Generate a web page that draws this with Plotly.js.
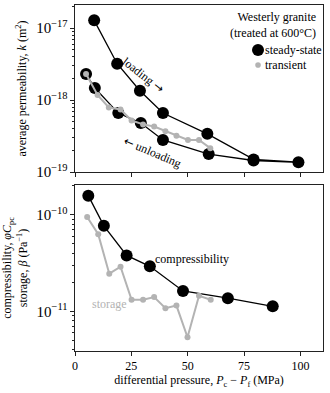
<!DOCTYPE html>
<html>
<head>
<meta charset="utf-8">
<script src="https://cdn.plot.ly/plotly-3.0.1.min.js"></script>
<style>
  body { margin: 0; background: #fff; }
  #plot { width: 330px; height: 393px; }
</style>
</head>
<body>
<div id="plot"></div>
<script>
// permeability, loading then unloading (steady-state)
const steadyP = [8.5, 18.7, 28.8, 39, 58.7, 79.2, 99.1, 79.2, 59.3, 39, 29.2, 19.2, 8.8, 4.9];
const steadyK = [1.28e-17, 3.2e-18, 1.35e-18, 6.6e-19, 3.4e-19, 1.5e-19, 1.37e-19,
                 1.45e-19, 1.78e-19, 2.8e-19, 4.8e-19, 6.6e-19, 1.47e-18, 2.3e-18];

// transient permeability
const transP = [4.9, 10, 15, 20.2, 25.1, 30.2, 35.1, 40.1, 45, 50.1, 55, 60];
const transK = [2.3e-18, 1.18e-18, 7.9e-19, 7.4e-19, 5.2e-19, 4.6e-19, 4.3e-19,
                3.7e-19, 3.2e-19, 2.8e-19, 2.8e-19, 2.15e-19];

// compressibility
const compP = [5.9, 12.8, 22.9, 33.2, 47.9, 67.8, 87.7];
const compVal = [1.58e-10, 7.7e-11, 3.8e-11, 2.93e-11, 1.63e-11, 1.37e-11, 1.13e-11];

// storage
const storP = [5.4, 10.3, 15.2, 20.2, 25.1, 30.2, 35.1, 40.1, 45, 49.9, 55, 60.2];
const storVal = [9.5e-11, 6.3e-11, 2.46e-11, 2.9e-11, 1.32e-11, 1.32e-11, 1.41e-11,
                 1.08e-11, 1.15e-11, 5.4e-12, 1.45e-11, 1.32e-11];

const xTicks = [0, 25, 50, 75, 100];

const black = '#000000';
const grey = '#b3b3b3';
const fontFam = 'Liberation Serif';

const traces = [
  { x: steadyP, y: steadyK, xaxis: 'x', yaxis: 'y', type: 'scatter', mode: 'lines+markers',
    line: { color: black, width: 1.3 }, marker: { color: black, size: 12 } },
  { x: transP, y: transK, xaxis: 'x', yaxis: 'y', type: 'scatter', mode: 'lines+markers',
    line: { color: grey, width: 2 }, marker: { color: grey, size: 6 } },
  { x: compP, y: compVal, xaxis: 'x2', yaxis: 'y2', type: 'scatter', mode: 'lines+markers',
    line: { color: black, width: 1.3 }, marker: { color: black, size: 12 } },
  { x: storP, y: storVal, xaxis: 'x2', yaxis: 'y2', type: 'scatter', mode: 'lines+markers',
    line: { color: grey, width: 2 }, marker: { color: grey, size: 6 } }
];

const axisLine = { showline: true, linecolor: '#222', linewidth: 1, mirror: true,
                   ticks: 'outside', ticklen: 4, tickcolor: '#222', showgrid: false, zeroline: false };

const logMinor = { ticks: 'outside', ticklen: 2, tickcolor: '#222', dtick: 'D1', showgrid: false };

// legend marker helper (x domain / y domain units of the top panel)
function dot(cx, cy, rpx, color) {
  const rx = rpx / 248, ry = rpx / 167;
  return { type: 'circle', xref: 'x domain', yref: 'y domain',
           x0: cx - rx, x1: cx + rx, y0: cy - ry, y1: cy + ry,
           fillcolor: color, line: { width: 0 } };
}

const arrow = function (a) { return '<span style="font-family:DejaVu Sans">' + a + '</span>'; };

const layout = {
  width: 330, height: 393,
  margin: { l: 75, r: 7, t: 5, b: 42 },
  paper_bgcolor: '#fff', plot_bgcolor: '#fff',
  font: { family: fontFam, size: 12, color: '#000' },
  showlegend: false,
  xaxis: Object.assign({}, axisLine, { domain: [0, 1], anchor: 'y', range: [0, 110],
    tickvals: xTicks, showticklabels: false }),
  yaxis: Object.assign({}, axisLine, { domain: [0.517, 1], anchor: 'x', type: 'log',
    range: [-19, -16.68], dtick: 1, exponentformat: 'power', minor: logMinor,
    tickfont: { family: fontFam, size: 12 },
    title: { text: 'average permeability, <i>k</i> (m<sup>2</sup>)',
             font: { family: fontFam, size: 12 }, standoff: 6 } }),
  xaxis2: Object.assign({}, axisLine, { domain: [0, 1], anchor: 'y2', range: [0, 110],
    tickvals: xTicks, tickfont: { family: fontFam, size: 12 },
    title: { text: 'differential pressure, <i>P</i><sub>c</sub> − <i>P</i><sub>f</sub> (MPa)',
             font: { family: fontFam, size: 12 }, standoff: 2 } }),
  yaxis2: Object.assign({}, axisLine, { domain: [0, 0.48], anchor: 'x2', type: 'log',
    range: [-11.41, -9.69], dtick: 1, exponentformat: 'power', minor: logMinor,
    tickfont: { family: fontFam, size: 12 },
    title: { text: 'compressibility, <i>φC</i><sub>pc</sub><br>storage, <i>β</i> (Pa<sup>−1</sup>)',
             font: { family: fontFam, size: 12 }, standoff: 8 } }),
  shapes: [
    dot(0.738, 0.7305, 6, black),
    dot(0.738, 0.641, 2.8, grey)
  ],
  annotations: [
    { xref: 'x domain', yref: 'y domain', x: 0.98, y: 0.985, xanchor: 'right', yanchor: 'top',
      text: 'Westerly granite<br>(treated at 600°C)', showarrow: false, align: 'right',
      font: { family: fontFam, size: 12 } },
    { xref: 'x domain', yref: 'y domain', x: 0.757, y: 0.7305, xanchor: 'left', yanchor: 'middle',
      text: 'steady-state', showarrow: false, font: { family: fontFam, size: 12 } },
    { xref: 'x domain', yref: 'y domain', x: 0.757, y: 0.641, xanchor: 'left', yanchor: 'middle',
      text: 'transient', showarrow: false, font: { family: fontFam, size: 12 } },
    { xref: 'x', yref: 'y', x: 30.2, y: -17.65, text: 'loading ' + arrow('→'), textangle: 38,
      showarrow: false, font: { family: fontFam, size: 12 } },
    { xref: 'x', yref: 'y', x: 34.2, y: -18.72, text: arrow('←') + ' unloading', textangle: 23,
      showarrow: false, font: { family: fontFam, size: 12 } },
    { xref: 'x2', yref: 'y2', x: 34.6, y: -10.455, xanchor: 'left', text: 'compressibility',
      showarrow: false, font: { family: fontFam, size: 12 } },
    { xref: 'x2', yref: 'y2', x: 15.1, y: -10.92, text: 'storage',
      showarrow: false, font: { family: fontFam, size: 12, color: grey } }
  ]
};

Plotly.newPlot('plot', traces, layout, { staticPlot: true, displayModeBar: false });
</script>
</body>
</html>
